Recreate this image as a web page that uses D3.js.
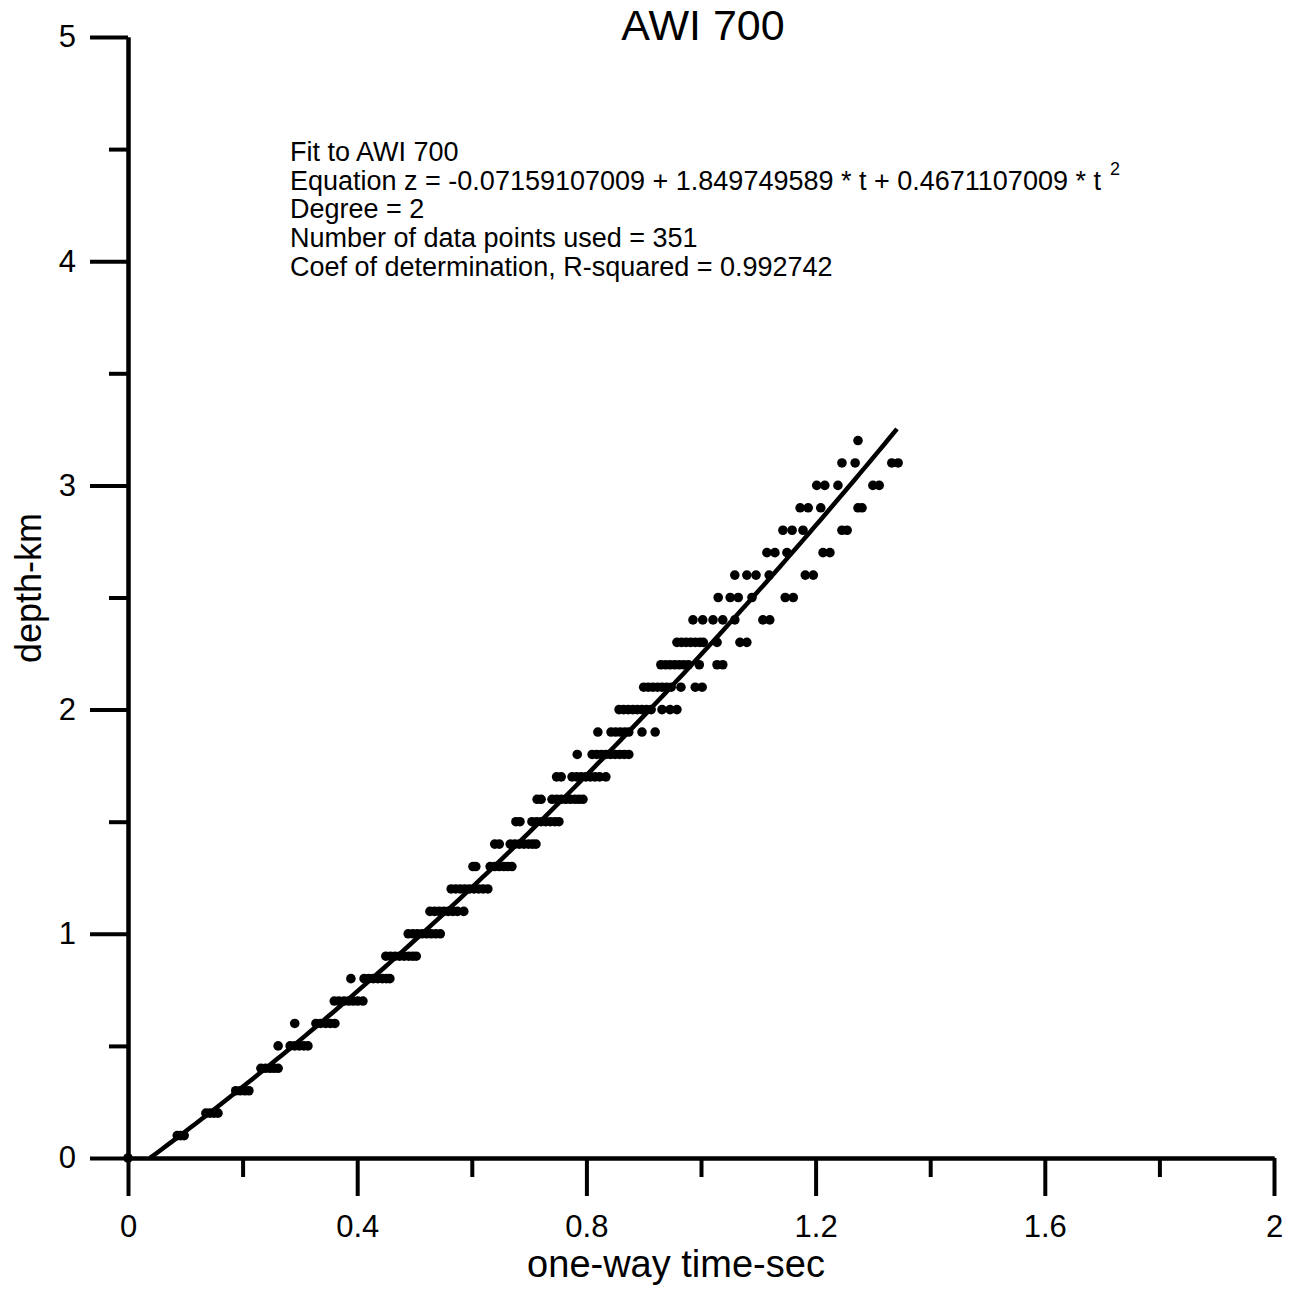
<!DOCTYPE html>
<html>
<head>
<meta charset="utf-8">
<script src="https://cdn.jsdelivr.net/npm/d3@7"></script>
<style>
  body { margin: 0; background: #fff; }
  text { font-family: "Liberation Sans", Arial, sans-serif; fill: #000; }
</style>
</head>
<body>
<div id="chart"></div>
<script>
// depth levels (km) and the one-way times (sec) read at each level
var depthLevels = [0, 0.1, 0.2, 0.3, 0.4, 0.5, 0.6, 0.7, 0.8, 0.9, 1.0, 1.1, 1.2, 1.3, 1.4, 1.5, 1.6,
  1.7, 1.8, 1.9, 2.0, 2.1, 2.2, 2.3, 2.4, 2.5, 2.6, 2.7, 2.8, 2.9, 3.0, 3.1, 3.2];

var timesAtLevel = [
  [0],
  [0.086, 0.092, 0.098],
  [0.136, 0.143, 0.150, 0.157],
  [0.188, 0.196, 0.204, 0.211],
  [0.232, 0.240, 0.248, 0.255, 0.262],
  [0.262, 0.283, 0.291, 0.299, 0.307, 0.314],
  [0.291, 0.328, 0.336, 0.345, 0.353, 0.361],
  [0.360, 0.368, 0.377, 0.385, 0.393, 0.401, 0.410],
  [0.389, 0.412, 0.420, 0.428, 0.436, 0.444, 0.451, 0.457],
  [0.450, 0.458, 0.466, 0.474, 0.482, 0.490, 0.497, 0.503],
  [0.489, 0.497, 0.505, 0.513, 0.521, 0.529, 0.537, 0.545],
  [0.527, 0.535, 0.543, 0.551, 0.559, 0.567, 0.575, 0.586],
  [0.564, 0.572, 0.580, 0.588, 0.596, 0.604, 0.612, 0.620, 0.628],
  [0.602, 0.607, 0.632, 0.640, 0.648, 0.656, 0.663, 0.670],
  [0.640, 0.648, 0.667, 0.675, 0.683, 0.691, 0.699, 0.706, 0.712],
  [0.677, 0.684, 0.705, 0.713, 0.721, 0.729, 0.737, 0.745, 0.752],
  [0.714, 0.721, 0.740, 0.748, 0.756, 0.764, 0.772, 0.780, 0.787, 0.794],
  [0.748, 0.756, 0.775, 0.783, 0.791, 0.799, 0.807, 0.815, 0.823, 0.834],
  [0.784, 0.810, 0.818, 0.826, 0.834, 0.842, 0.850, 0.858, 0.866, 0.874],
  [0.820, 0.843, 0.851, 0.859, 0.867, 0.874, 0.897, 0.920],
  [0.857, 0.865, 0.873, 0.881, 0.889, 0.897, 0.905, 0.913, 0.932, 0.946, 0.958],
  [0.900, 0.908, 0.916, 0.924, 0.932, 0.940, 0.948, 0.965, 0.990, 1.002],
  [0.930, 0.938, 0.946, 0.954, 0.962, 0.970, 0.978, 0.997, 1.028, 1.038],
  [0.958, 0.966, 0.974, 0.982, 0.990, 0.998, 1.004, 1.028, 1.068, 1.080],
  [0.986, 1.003, 1.021, 1.038, 1.059, 1.108, 1.120],
  [1.030, 1.051, 1.065, 1.089, 1.147, 1.161],
  [1.059, 1.080, 1.096, 1.119, 1.182, 1.196],
  [1.115, 1.129, 1.150, 1.213, 1.225],
  [1.143, 1.159, 1.178, 1.246, 1.255],
  [1.173, 1.187, 1.209, 1.274, 1.281],
  [1.202, 1.216, 1.239, 1.300, 1.311],
  [1.246, 1.269, 1.333, 1.344],
  [1.274]
];

// polynomial fit z = c0 + c1*t + c2*t^2, drawn over this time span
var fitCoef = [-0.07159107009, 1.849749589, 0.4671107009];
var fitTimeSpan = [0.0385, 1.342];

var xMajorTicks = [0, 0.4, 0.8, 1.2, 1.6, 2];
var xMinorTicks = [0.2, 0.6, 1.0, 1.4, 1.8];
var yMajorTicks = [0, 1, 2, 3, 4, 5];
var yMinorTicks = [0.5, 1.5, 2.5, 3.5, 4.5];

var noteLines = [
  "Fit to AWI 700",
  "Equation z = -0.07159107009 + 1.849749589 * t + 0.4671107009 * t",
  "Degree = 2",
  "Number of data points used = 351",
  "Coef of determination, R-squared = 0.992742"
];

var svgWidth = 1303;
var svgHeight = 1289;

var svg = d3.select("#chart")
  .append("svg")
  .attr("width", svgWidth)
  .attr("height", svgHeight);

var xScale = d3.scaleLinear().domain([0, 2]).range([128, 1274]);
var yScale = d3.scaleLinear().domain([0, 5]).range([1158, 37]);

// flatten the levels into points
var points = [];
depthLevels.forEach(function(d, i) {
  timesAtLevel[i].forEach(function(t) {
    points.push({ t: t, z: d });
  });
});

// axes
function styleAxis(g) {
  g.selectAll("path, line")
    .attr("stroke", "#000")
    .attr("stroke-width", 4);
  g.selectAll("text")
    .attr("font-family", "Liberation Sans, Arial, sans-serif")
    .attr("font-size", 31)
    .attr("fill", "#000");
}

svg.append("g")
  .attr("transform", "translate(0,1158)")
  .call(d3.axisBottom(xScale).tickValues(xMinorTicks).tickSize(19).tickSizeOuter(0).tickFormat(""))
  .call(styleAxis);

svg.append("g")
  .attr("transform", "translate(0,1158)")
  .call(d3.axisBottom(xScale).tickValues(xMajorTicks).tickSize(38).tickSizeOuter(0)
    .tickPadding(19).tickFormat(d3.format("~g")))
  .call(styleAxis);

svg.append("g")
  .attr("transform", "translate(128,0)")
  .call(d3.axisLeft(yScale).tickValues(yMinorTicks).tickSize(19).tickSizeOuter(0).tickFormat(""))
  .call(styleAxis);

svg.append("g")
  .attr("transform", "translate(128,0)")
  .call(d3.axisLeft(yScale).tickValues(yMajorTicks).tickSize(38).tickSizeOuter(0)
    .tickPadding(14).tickFormat(d3.format("~g")))
  .call(styleAxis);

// fit curve
var fitLine = d3.line()
  .x(function(t) { return xScale(t); })
  .y(function(t) { return yScale(fitCoef[0] + fitCoef[1] * t + fitCoef[2] * t * t); });

svg.append("path")
  .datum(d3.range(fitTimeSpan[0], fitTimeSpan[1], 0.01).concat([fitTimeSpan[1]]))
  .attr("d", fitLine)
  .attr("fill", "none")
  .attr("stroke", "#000")
  .attr("stroke-width", 4.5);

// data points
svg.selectAll("circle.pt")
  .data(points)
  .enter()
  .append("circle")
  .attr("class", "pt")
  .attr("cx", function(d) { return xScale(d.t); })
  .attr("cy", function(d) { return yScale(d.z); })
  .attr("r", 4.8)
  .attr("fill", "#000");

// title
svg.append("text")
  .attr("x", 703)
  .attr("y", 40)
  .attr("text-anchor", "middle")
  .attr("font-size", 43)
  .text("AWI 700");

// axis titles
svg.append("text")
  .attr("x", 676)
  .attr("y", 1277)
  .attr("text-anchor", "middle")
  .attr("font-size", 38)
  .text("one-way time-sec");

svg.append("text")
  .attr("transform", "translate(41,588) rotate(-90)")
  .attr("text-anchor", "middle")
  .attr("font-size", 36)
  .text("depth-km");

// fit annotation
var note = svg.append("text")
  .attr("font-size", 27);

noteLines.forEach(function(line, i) {
  note.append("tspan")
    .attr("x", 290)
    .attr("y", 161 + i * 28.7)
    .text(line);
  if (i === 1) {
    note.append("tspan")
      .attr("dx", 9)
      .attr("dy", -15)
      .attr("font-size", 18)
      .text("2");
  }
});
</script>
</body>
</html>
